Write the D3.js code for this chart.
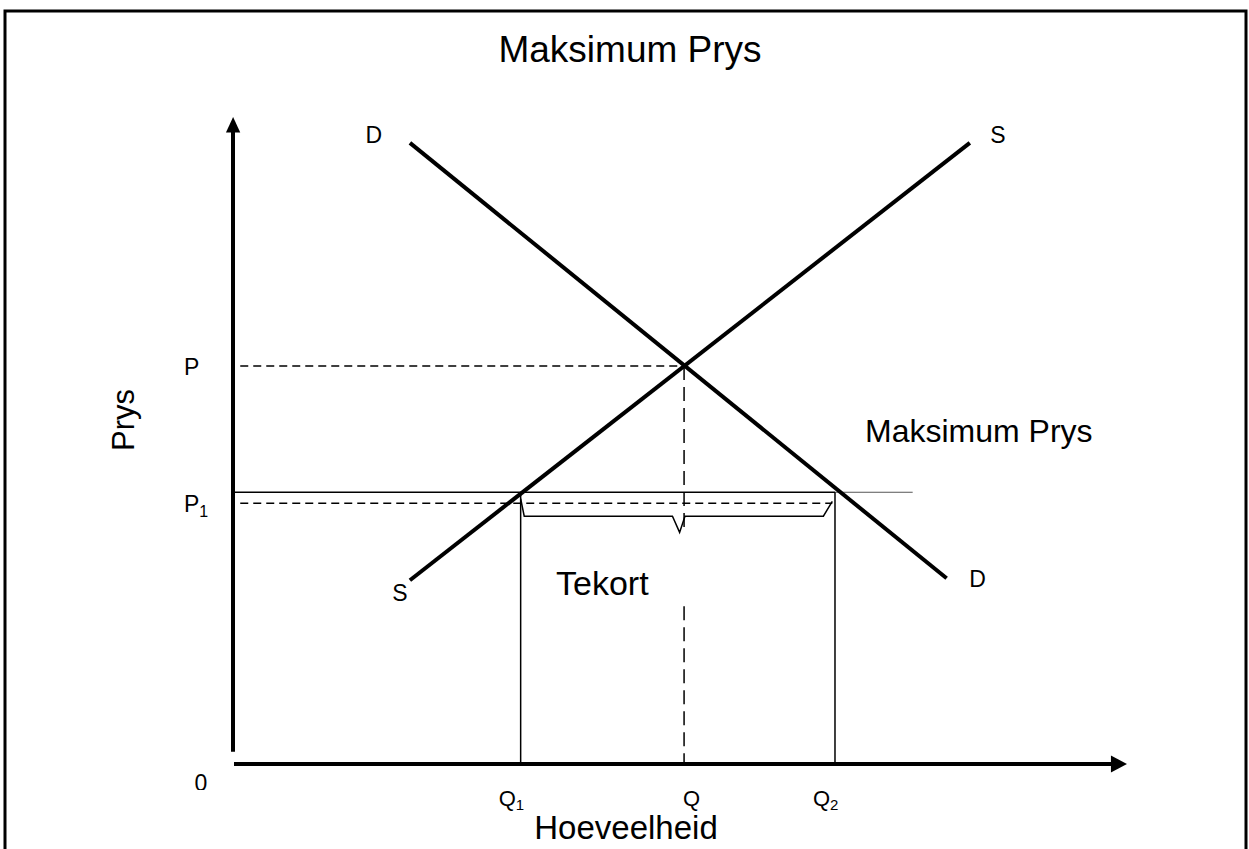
<!DOCTYPE html>
<html lang="en">
<head>
<meta charset="UTF-8">
<script src="https://cdn.jsdelivr.net/npm/d3@7"></script>
<style>
    body{margin:0;background:#fff;}
    svg text{font-family:"Liberation Sans",Arial,sans-serif;fill:#000;}
</style>
<title>Maksimum Prys</title>
</head>
<body>
<script>
    // values in quantity / price units (both axes run 0..100)
    var supplyQ = [19.7, 82.4], supplyP = [28.4, 96];
    var demandQ = [19.7, 79.8], demandP = [96, 28.7];
    var eqQ = 50.4, eqP = 61.5;        // P and Q
    var ceilP = 42.0;                  // maksimum prys line
    var p1 = 40.3;                     // P1 dashed
    var q1 = 32.1, q2 = 67.3;
    var ceilEnd = 76.0;
    var qLabels = [{t:"Q", sub:"1", q:q1}, {t:"Q", sub:"", q:eqQ}, {t:"Q", sub:"2", q:q2}];
    var pLabels = [{t:"P", sub:"", p:eqP}, {t:"P", sub:"1", p:p1}];
    var brace = [[32.1,41.0],[32.5,38.3],[49.1,38.3],[49.9,35.8],[50.5,38.3],[66.0,38.3],[67.0,40.6]];

    var W = 1249, H = 849;
    var x = d3.scaleLinear().domain([0,100]).range([234,1127]);
    var y = d3.scaleLinear().domain([0,100]).range([764,117]);
    var line = d3.line().x(function(d){return x(d[0]);}).y(function(d){return y(d[1]);});

    var svg = d3.select("body").append("svg")
        .attr("width",W).attr("height",H);

    svg.append("defs").append("clipPath").attr("id","zeroclip")
        .append("rect").attr("x",180).attr("y",760).attr("width",40).attr("height",30);

    svg.append("rect")
        .attr("x",5).attr("y",11).attr("width",1241).attr("height",860)
        .attr("fill","none").attr("stroke","#000").attr("stroke-width",3);

    // axes
    svg.append("line")
        .attr("x1",x(0)).attr("x2",x(98.3)).attr("y1",y(0)).attr("y2",y(0))
        .attr("stroke","#000").attr("stroke-width",4);
    svg.append("path")
        .attr("d",line([[98.2,1.3],[100,0],[98.2,-1.3]])+"Z").attr("fill","#000");
    svg.append("line")
        .attr("x1",x(0)-1).attr("x2",x(0)-1).attr("y1",y(1.9)).attr("y2",y(44.2))
        .attr("stroke","#000").attr("stroke-width",4);
    svg.append("line")
        .attr("x1",x(0)-1).attr("x2",x(0)-1).attr("y1",y(35.4)).attr("y2",y(97.8))
        .attr("stroke","#000").attr("stroke-width",4);
    svg.append("line")
        .attr("x1",x(0)).attr("x2",x(0)).attr("y1",y(35.4)).attr("y2",y(44.2))
        .attr("stroke","#000").attr("stroke-width",1.2);
    svg.append("path")
        .attr("d",line([[-0.9,97.6],[-0.1,100],[0.7,97.6]])+"Z").attr("fill","#000");

    // dashed guides
    svg.append("path").attr("d",line([[0.7,eqP],[eqQ,eqP]]))
        .attr("stroke","#000").attr("stroke-width",1.5).attr("stroke-dasharray","8,5").attr("fill","none");
    svg.append("path").attr("d",line([[eqQ,eqP],[eqQ,35.8]]))
        .attr("stroke","#000").attr("stroke-width",1.5).attr("stroke-dasharray","14,7").attr("fill","none");
    svg.append("path").attr("d",line([[eqQ,24.4],[eqQ,0]]))
        .attr("stroke","#000").attr("stroke-width",1.5).attr("stroke-dasharray","14,7").attr("fill","none");
    svg.append("path").attr("d",line([[0.7,p1],[67.0,p1]]))
        .attr("stroke","#000").attr("stroke-width",1.5).attr("stroke-dasharray","8,5").attr("fill","none");

    // maksimum prys line, Q1 and Q2
    svg.append("path").attr("d",line([[0,ceilP],[q2,ceilP]]))
        .attr("stroke","#000").attr("stroke-width",1.5).attr("fill","none");
    svg.append("path").attr("d",line([[q2,ceilP],[ceilEnd,ceilP]]))
        .attr("stroke","#555").attr("stroke-width",1).attr("fill","none");
    [q1,q2].forEach(function(q){
        svg.append("path").attr("d",line([[q,ceilP],[q,0]]))
            .attr("stroke","#000").attr("stroke-width",1.5).attr("fill","none");
    });

    // brace for tekort
    svg.append("path").attr("d",line(brace))
        .attr("stroke","#000").attr("stroke-width",1.5).attr("fill","none");

    // supply and demand
    svg.append("path").attr("d",line(d3.zip(supplyQ,supplyP)))
        .attr("stroke","#000").attr("stroke-width",4).attr("fill","none");
    svg.append("path").attr("d",line(d3.zip(demandQ,demandP)))
        .attr("stroke","#000").attr("stroke-width",4).attr("fill","none");

    // texts
    function txt(tx,ty,s,size,anchor){
        return svg.append("text").attr("x",tx).attr("y",ty)
            .attr("font-size",size).attr("text-anchor",anchor||"start").text(s);
    }
    txt(630,62,"Maksimum Prys",37,"middle");
    txt(x(demandQ[0])-36,y(demandP[0])+0,"D",23,"middle");
    txt(x(supplyQ[1])+28,y(supplyP[1])+0,"S",23,"middle");
    txt(x(supplyQ[0])-10,y(supplyP[0])+21,"S",23,"middle");
    txt(x(demandQ[1])+31,y(demandP[1])+9,"D",23,"middle");
    txt(865,442,"Maksimum Prys",32);
    txt(556,595,"Tekort",34);
    txt(201,791,"0",23,"middle").attr("clip-path","url(#zeroclip)");
    txt(0,0,"Prys",31,"middle").attr("transform","translate(134,420) rotate(-90)");
    txt(626,839,"Hoeveelheid",33,"middle");

    pLabels.forEach(function(d){
        var t = txt(x(0)-50,y(d.p)+9,d.t,23);
        if(d.sub) t.append("tspan").attr("font-size",16).attr("dy",5).text(d.sub);
    });
    qLabels.forEach(function(d){
        var t = txt(x(d.q)-(d.sub?22:1),806,d.t,22);
        if(d.sub) t.append("tspan").attr("font-size",15).attr("dy",4).text(d.sub);
    });
</script>
</body>
</html>
